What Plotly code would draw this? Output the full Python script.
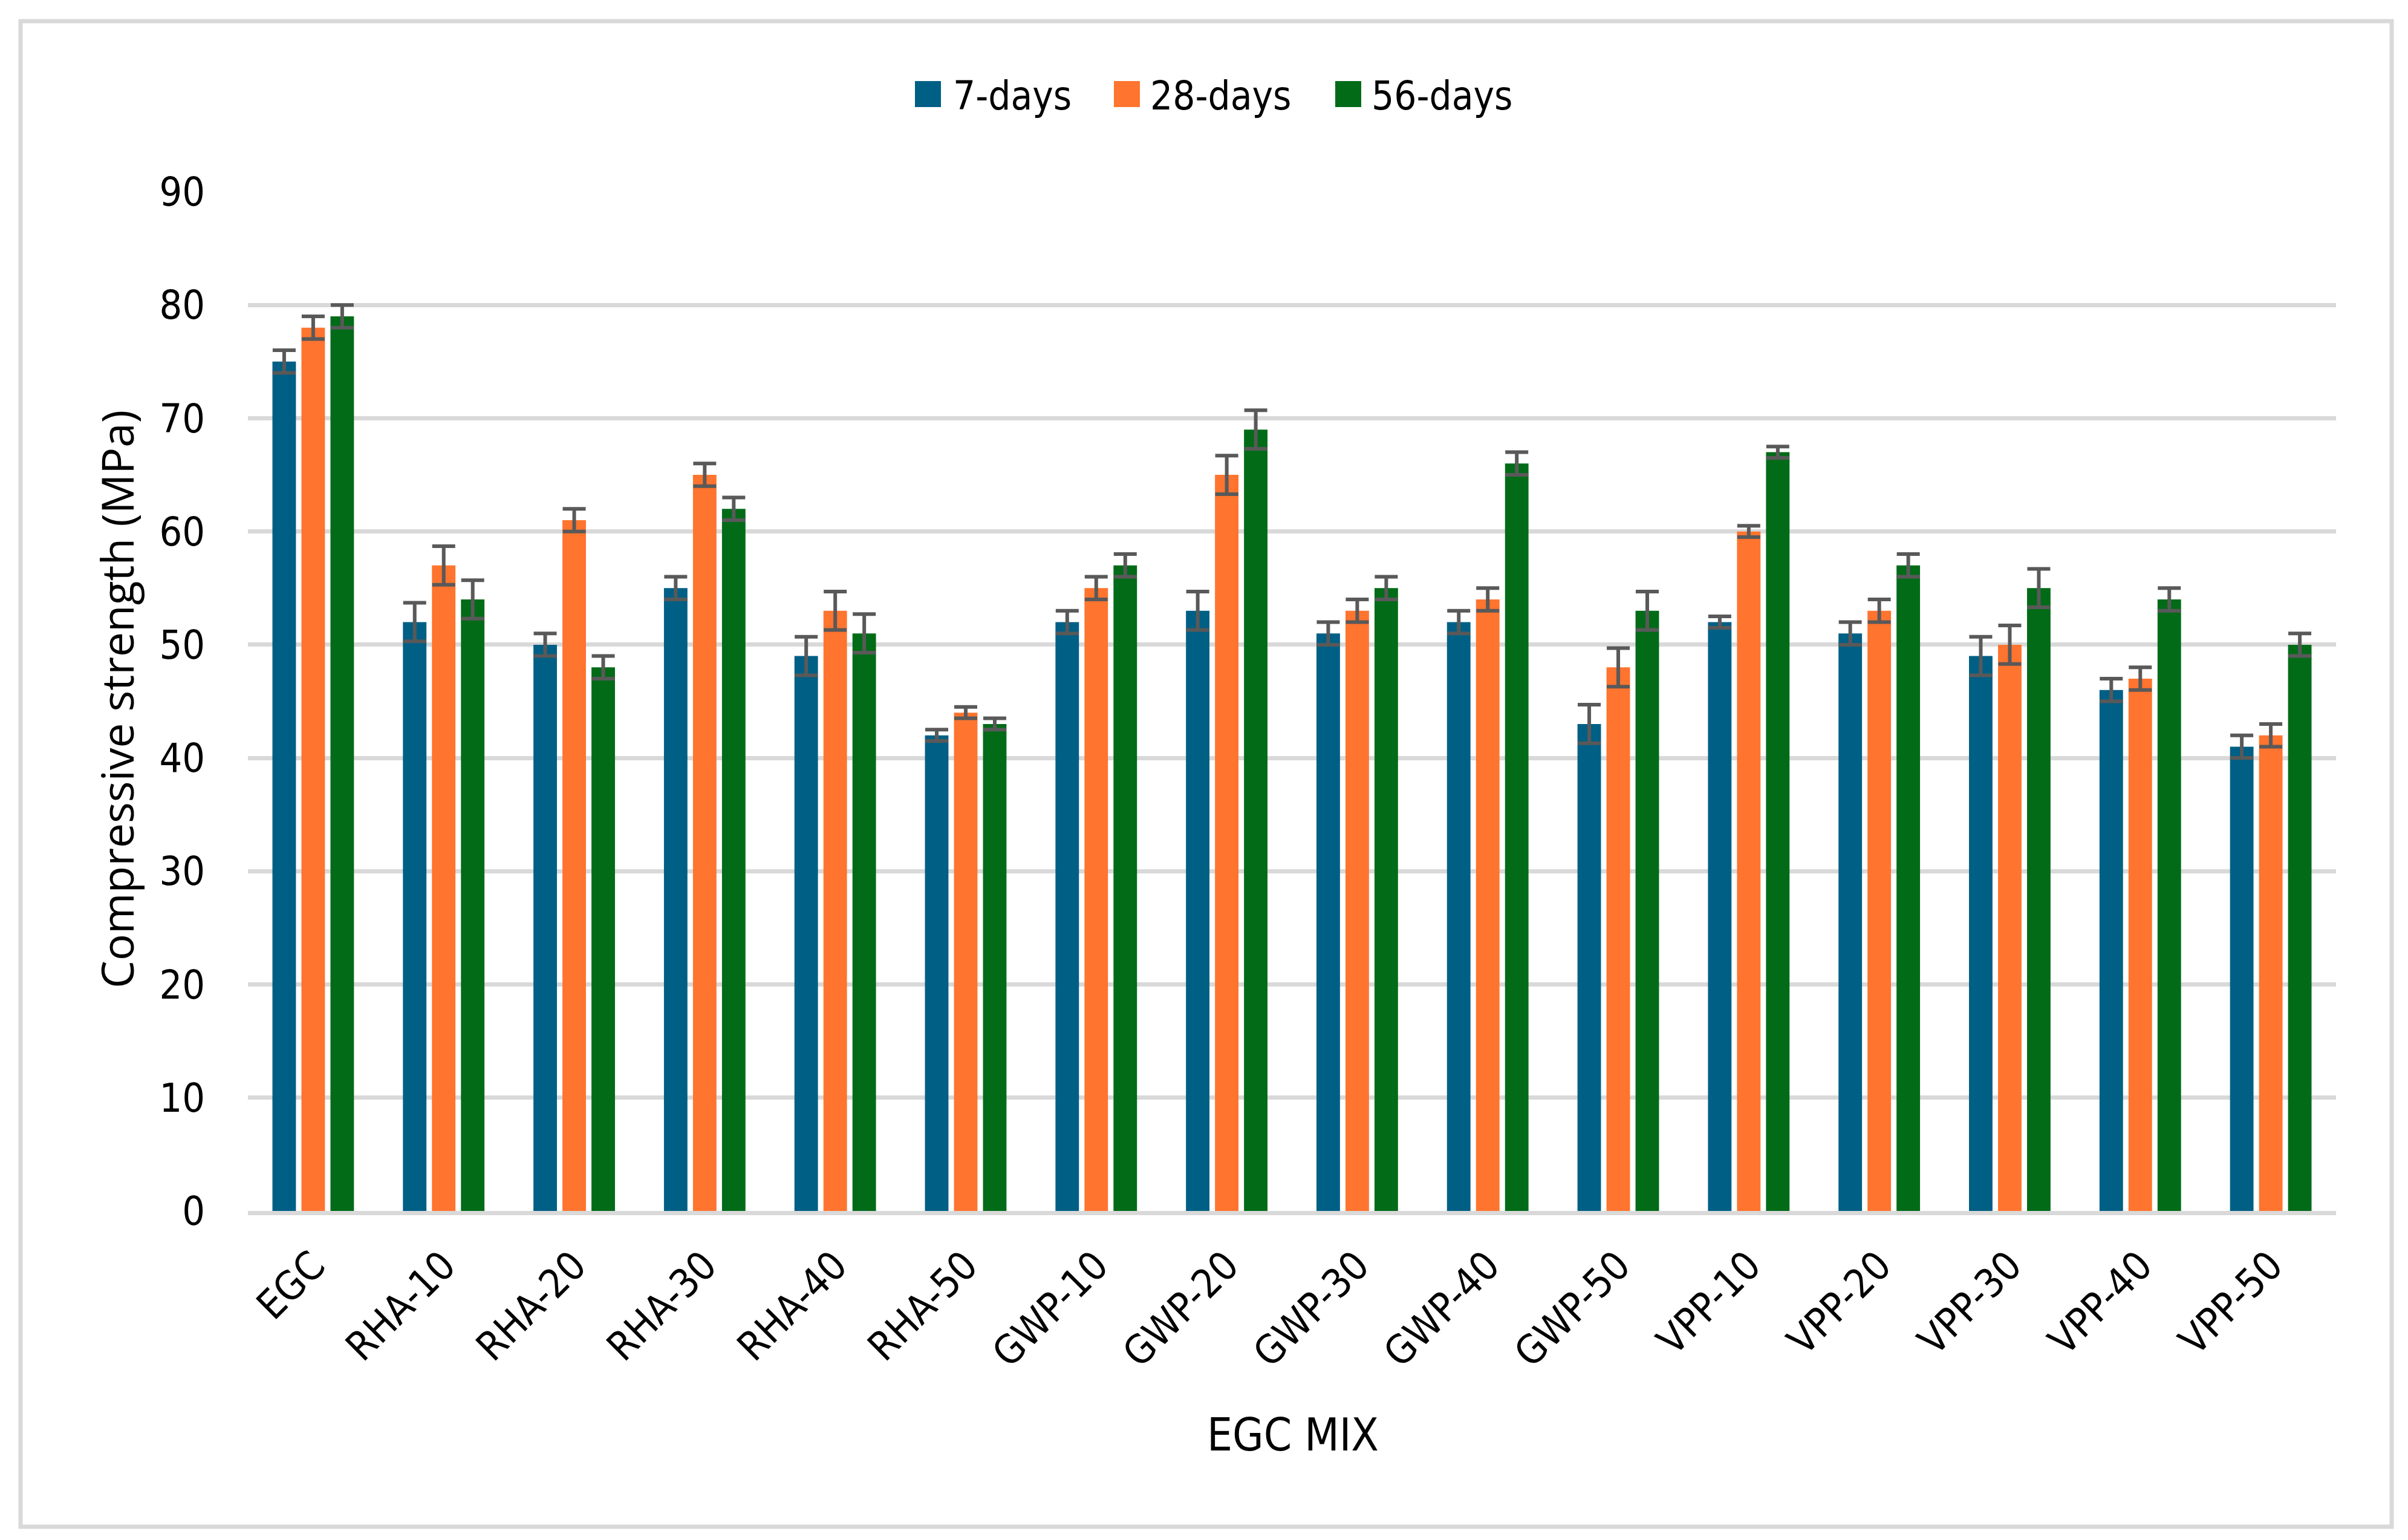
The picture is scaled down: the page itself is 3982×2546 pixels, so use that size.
import plotly.graph_objects as go

categories = ["EGC", "RHA-10", "RHA-20", "RHA-30", "RHA-40", "RHA-50",
              "GWP-10", "GWP-20", "GWP-30", "GWP-40", "GWP-50",
              "VPP-10", "VPP-20", "VPP-30", "VPP-40", "VPP-50"]
series_names = ["7-days", "28-days", "56-days"]
days7 = [75, 52, 50, 55, 49, 42, 52, 53, 51, 52, 43, 52, 51, 49, 46, 41]
days28 = [78, 57, 61, 65, 53, 44, 55, 65, 53, 54, 48, 60, 53, 50, 47, 42]
days56 = [79, 54, 48, 62, 51, 43, 57, 69, 55, 66, 53, 67, 57, 55, 54, 50]
err7 = [1.0, 1.7, 1.0, 1.0, 1.7, 0.5, 1.0, 1.7, 1.0, 1.0, 1.7, 0.5, 1.0, 1.7, 1.0, 1.0]
err28 = [1.0, 1.7, 1.0, 1.0, 1.7, 0.5, 1.0, 1.7, 1.0, 1.0, 1.7, 0.5, 1.0, 1.7, 1.0, 1.0]
err56 = [1.0, 1.7, 1.0, 1.0, 1.7, 0.5, 1.0, 1.7, 1.0, 1.0, 1.7, 0.5, 1.0, 1.7, 1.0, 1.0]
y_ticks = [0, 10, 20, 30, 40, 50, 60, 70, 80, 90]

colors = ["#005F85", "#FF742E", "#026B18"]
narrow = "DejaVu Sans Condensed, Liberation Sans Narrow, sans-serif"

# page has an 8px body margin: shrink the figure and shift everything by it
OFF = 8
W, H = 3982 - 2 * OFF, 2546 - 2 * OFF
L = 410 - OFF
T = 317 - OFF
R = W - (3863 - OFF)
B = H - (2002 - OFF)
PW, PH = W - L - R, H - T - B


def px_x(p):
    return (p - OFF - L) / PW


def px_y(p):
    return (H - B - (p - OFF)) / PH


fig = go.Figure()
for name, vals, errs, col in zip(series_names, [days7, days28, days56],
                                 [err7, err28, err56], colors):
    fig.add_trace(go.Bar(
        x=categories, y=vals, name=name, showlegend=False,
        marker=dict(color=col, line=dict(width=0)),
        error_y=dict(type="data", array=errs, visible=True, color="#595959",
                     thickness=6, width=19),
    ))

fig.update_layout(
    width=W, height=H,
    paper_bgcolor="white", plot_bgcolor="white",
    margin=dict(l=L, r=R, t=T, b=B),
    barmode="group", bargap=0.333, bargroupgap=0.19,
    font=dict(family=narrow, color="black", size=66),
    showlegend=False,
)
fig.update_yaxes(range=[0, 90], tickvals=y_ticks, showgrid=True, gridcolor="#D9D9D9",
                 gridwidth=7, zeroline=False, showline=False, ticks="",
                 tickfont=dict(family=narrow, size=66), ticklabelstandoff=70)
fig.update_xaxes(showgrid=False, showline=True, linecolor="#D9D9D9", linewidth=7,
                 ticks="", tickangle=-45, tickfont=dict(family=narrow, size=66),
                 ticklabelstandoff=18)

# legend drawn manually (large square swatches)
legend_sq_x = [1513, 1842, 2208]
legend_txt_x = [1575, 1901, 2267]
for name, col, sx, tx in zip(series_names, colors, legend_sq_x, legend_txt_x):
    fig.add_shape(type="rect", xref="paper", yref="paper",
                  x0=px_x(sx), x1=px_x(sx + 43), y0=px_y(177), y1=px_y(134),
                  line=dict(width=0), fillcolor=col)
    fig.add_annotation(text=name, xref="paper", yref="paper", x=px_x(tx), y=px_y(158),
                       xanchor="left", yanchor="middle", showarrow=False, borderpad=0,
                       font=dict(family=narrow, size=65, color="black"))

fig.add_annotation(text="Compressive strength (MPa)", xref="paper", yref="paper",
                   x=px_x(192), y=px_y(1156), textangle=-90, showarrow=False,
                   xanchor="center", yanchor="middle",
                   font=dict(family="Open Sans, Noto Sans, sans-serif", size=73, color="black"))
fig.add_annotation(text="EGC MIX", xref="paper", yref="paper",
                   x=px_x(2138), y=px_y(2372), showarrow=False, xanchor="center", yanchor="middle",
                   font=dict(family=narrow, size=74, color="black"))
fig.add_shape(type="rect", xref="paper", yref="paper", x0=px_x(34), x1=px_x(3955),
              y0=px_y(2524), y1=px_y(35), line=dict(color="#D9D9D9", width=7), layer="below")

fig.write_html("out.html")
